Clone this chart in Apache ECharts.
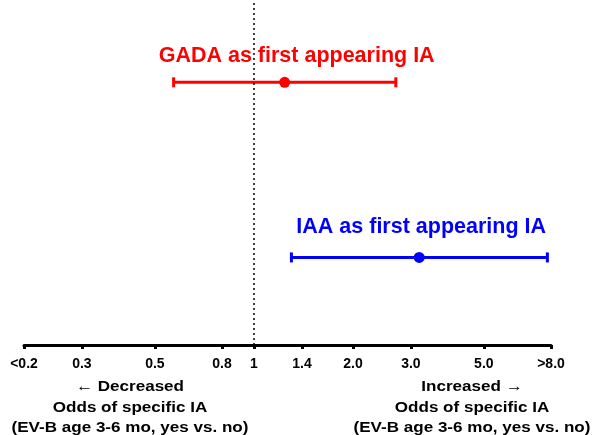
<!DOCTYPE html>
<html>
<head>
<meta charset="utf-8">
<script src="https://cdn.jsdelivr.net/npm/echarts@6/dist/echarts.min.js"></script>
<style>html,body{margin:0;padding:0;background:#fff}#c{width:593px;height:435px}</style>
</head>
<body>
<div id="c"></div>
<script>
var groups = ['IAA as first appearing IA', 'GADA as first appearing IA'];
var oddsRatio = [3.18, 1.24];
var ciLow = [1.30, 0.57];
var ciHigh = [7.8, 2.70];
var colors = ['#0000FF', '#FF0000'];
var tickValues = [0.2, 0.3, 0.5, 0.8, 1, 1.4, 2.0, 3.0, 5.0, 8.0];
var tickLabels = ['<0.2', '0.3', '0.5', '0.8', '1', '1.4', '2.0', '3.0', '5.0', '>8.0'];
var leftNote = '\u2190 Decreased\nOdds of specific IA\n(EV-B age 3-6 mo, yes vs. no)';
var rightNote = 'Increased \u2192\nOdds of specific IA\n(EV-B age 3-6 mo, yes vs. no)';

var FONT = 'Arial, "Liberation Sans", sans-serif';
var labelOffsets = [[2, -4], [12, 0]];

var chart = echarts.init(document.getElementById('c'));
var barData = groups.map(function (g, i) { return [ciLow[i], ciHigh[i], i]; });
var pointData = groups.map(function (g, i) {
  return {
    value: [oddsRatio[i], i],
    itemStyle: { color: colors[i], opacity: 1 },
    label: { show: true, position: 'top', distance: 10, offset: labelOffsets[i],
      formatter: g, color: colors[i], fontSize: 21.5, fontWeight: 'bold', fontFamily: FONT }
  };
});

chart.setOption({
  animation: false,
  grid: { left: 24, right: 42, top: 0, bottom: 90 },
  xAxis: {
    type: 'log', logBase: Math.E, min: 0.2, max: 8,
    axisLine: { show: true, onZero: false, lineStyle: { color: '#000', width: 3 } },
    axisTick: { show: true, length: 4, lineStyle: { color: '#000', width: 3 }, customValues: tickValues },
    axisLabel: {
      customValues: tickValues, margin: 12,
      color: '#000', fontSize: 14, fontWeight: 'bold', fontFamily: FONT,
      formatter: function (v) {
        for (var k = 0; k < tickValues.length; k++) {
          if (Math.abs(tickValues[k] - v) < 1e-6) return tickLabels[k];
        }
        return '';
      }
    },
    splitLine: { show: false }
  },
  yAxis: { type: 'value', min: -0.5, max: 1.47, show: false },
  series: [
    {
      type: 'custom',
      data: barData,
      encode: { x: [0, 1], y: 2 },
      renderItem: function (params, api) {
        var i = api.value(2);
        var p1 = api.coord([api.value(0), i]);
        var p2 = api.coord([api.value(1), i]);
        var h = 5;
        var st = { stroke: colors[i], lineWidth: 3 };
        return {
          type: 'group',
          children: [
            { type: 'line', shape: { x1: p1[0], y1: p1[1], x2: p2[0], y2: p2[1] }, style: st },
            { type: 'line', shape: { x1: p1[0], y1: p1[1] - h, x2: p1[0], y2: p1[1] + h }, style: st },
            { type: 'line', shape: { x1: p2[0], y1: p2[1] - h, x2: p2[0], y2: p2[1] + h }, style: st }
          ]
        };
      },
      markLine: {
        silent: true, symbol: 'none',
        label: { show: false },
        lineStyle: { color: '#000', type: [2, 3], width: 1.5 },
        data: [{ xAxis: 1 }]
      },
      z: 2
    },
    {
      type: 'scatter',
      symbol: 'circle',
      symbolSize: 11,
      data: pointData,
      z: 3
    }
  ],
  graphic: [
    { type: 'text', x: 130, y: 377, scaleX: 1.1, style: { text: leftNote, textAlign: 'center', fill: '#000',
      font: 'bold 15.5px ' + FONT, lineHeight: 20.3 } },
    { type: 'text', x: 472, y: 377, scaleX: 1.1, style: { text: rightNote, textAlign: 'center', fill: '#000',
      font: 'bold 15.5px ' + FONT, lineHeight: 20.3 } }
  ]
});
</script>
</body>
</html>
